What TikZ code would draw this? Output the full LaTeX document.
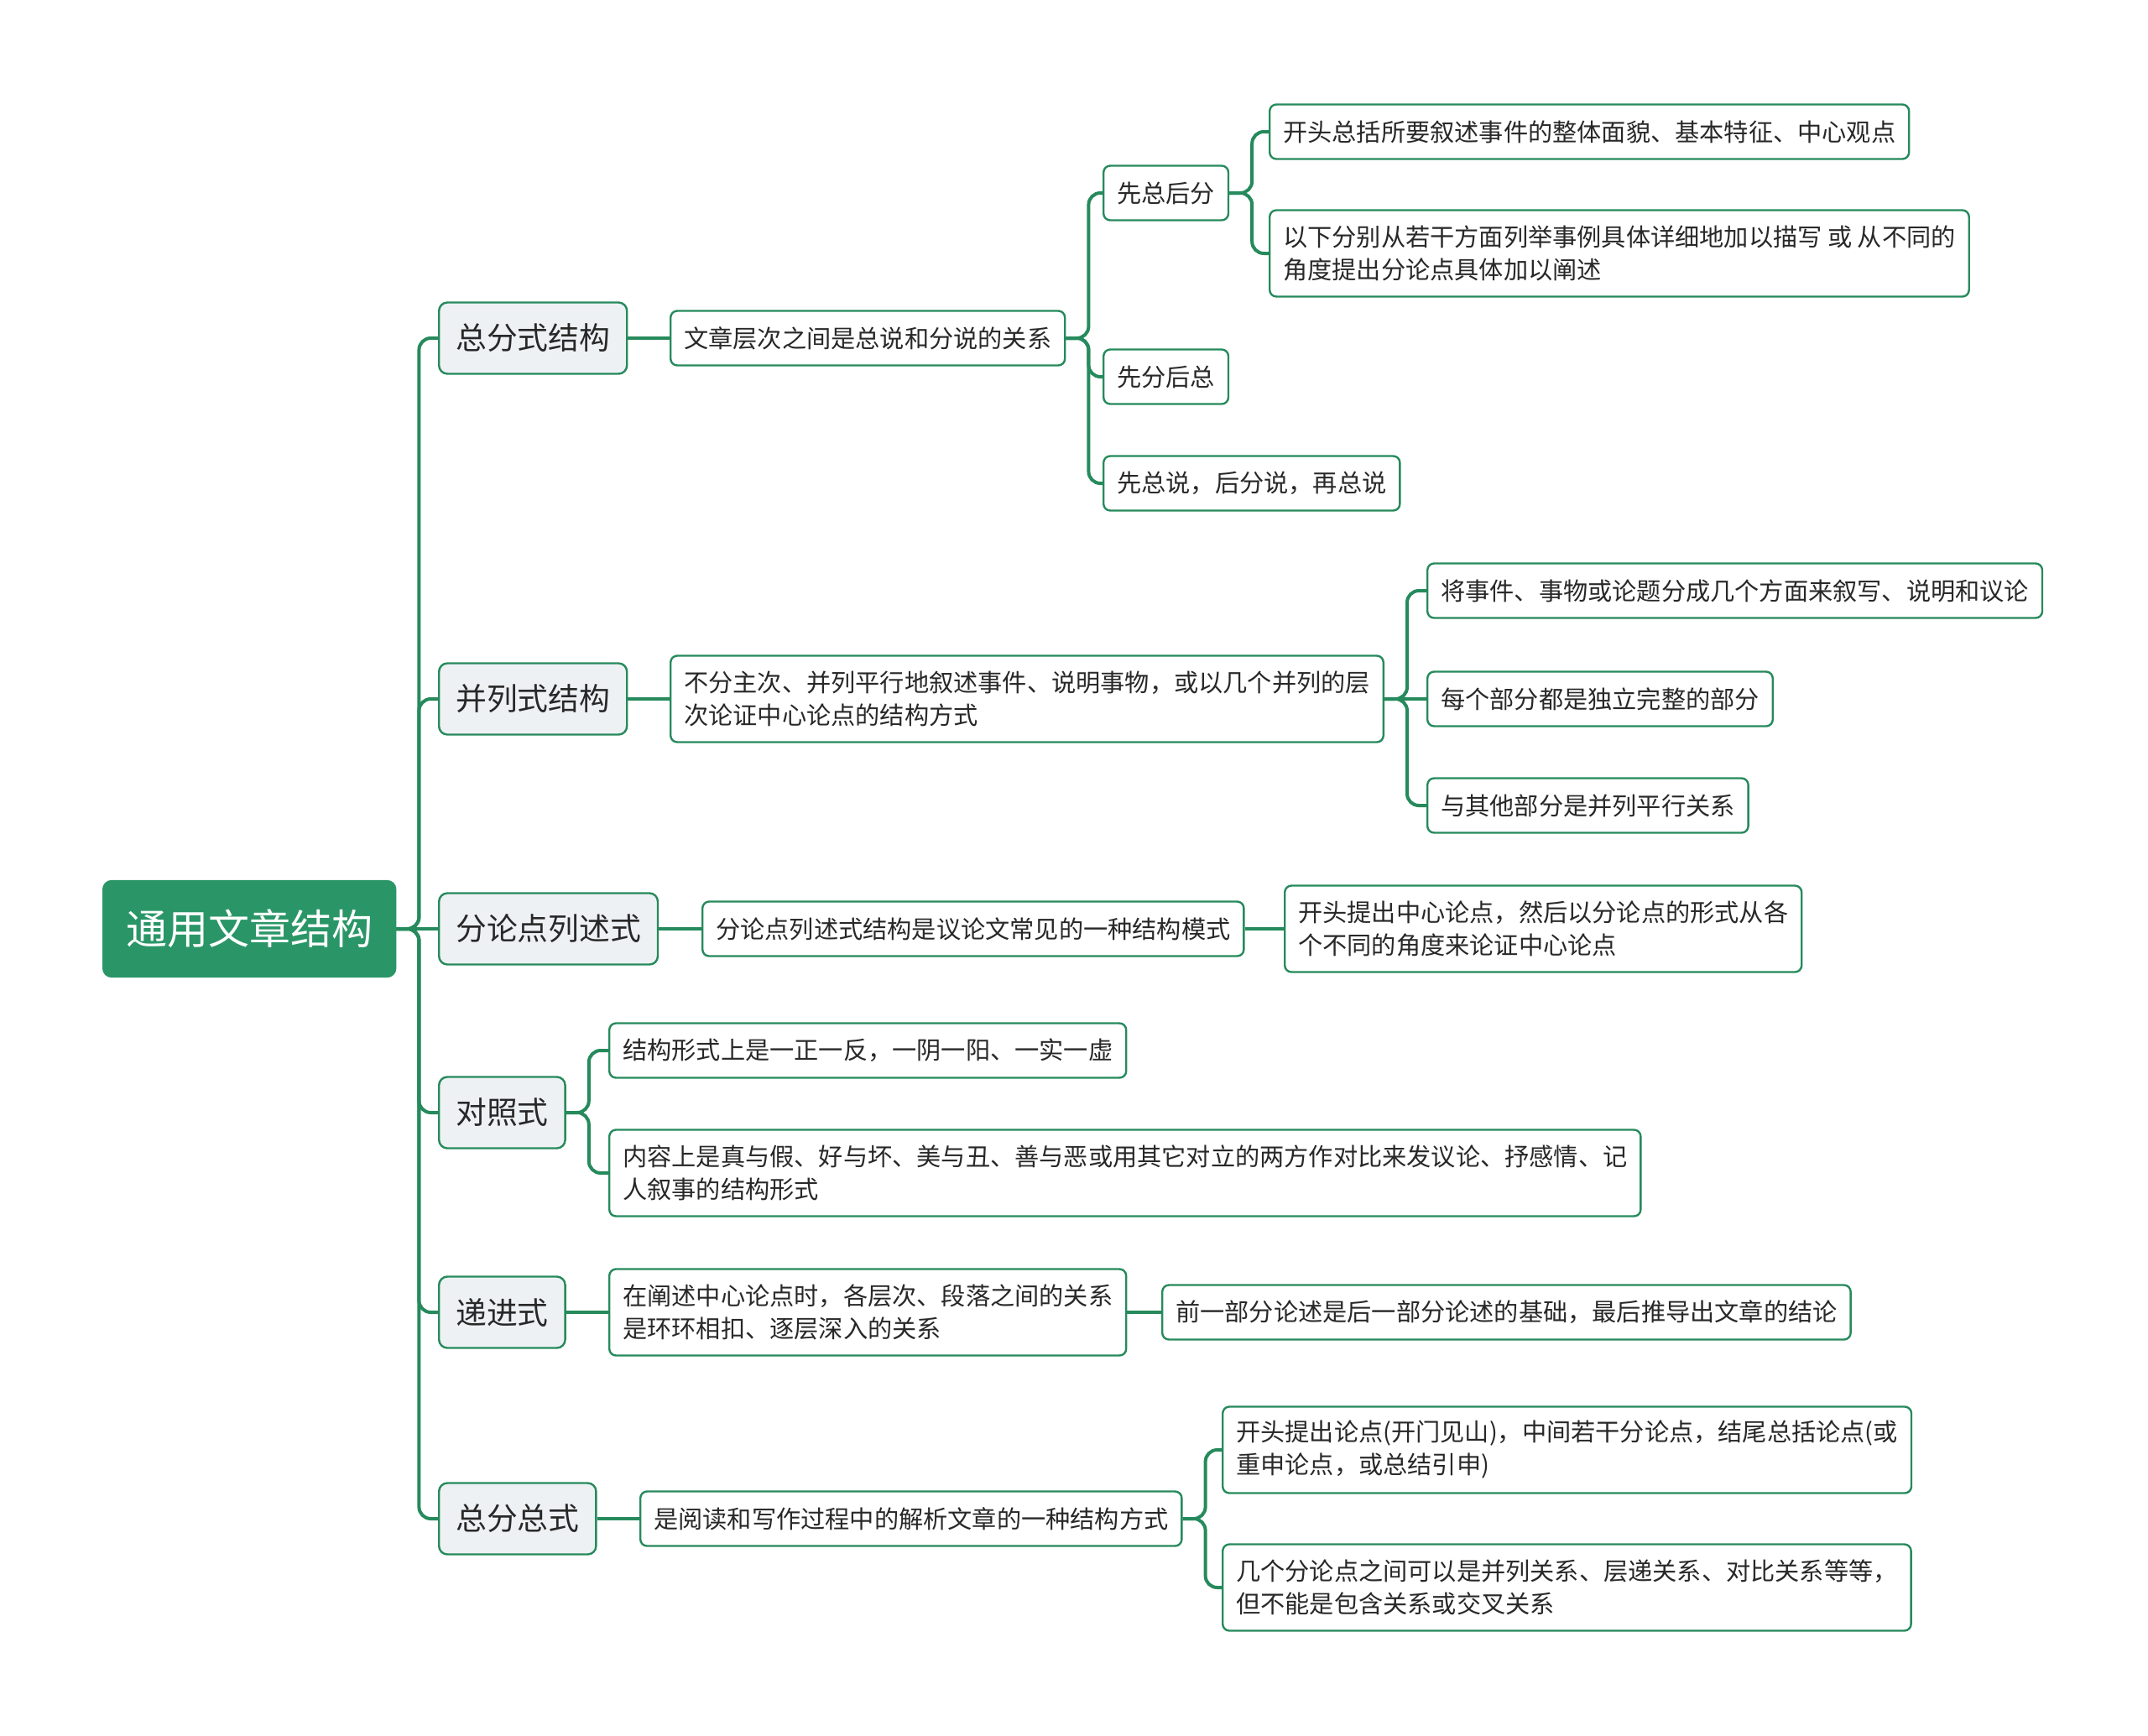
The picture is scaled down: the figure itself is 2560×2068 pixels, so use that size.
\documentclass[tikz,border=0pt]{standalone}
\usepackage{fontspec}
\setmainfont{Noto Sans CJK SC}
\definecolor{rootgreen}{RGB}{42,150,103}
\definecolor{linegreen}{RGB}{38,138,92}
\definecolor{topicgray}{RGB}{238,241,244}
\definecolor{textdark}{RGB}{40,40,40}
\tikzset{
    common/.style={anchor=west, draw=linegreen, line width=1.2pt, inner ysep=0pt, text=textdark},
    rootbox/.style={common, fill=rootgreen, draw=rootgreen, text=white, rounded corners=5pt,
        font=\fontsize{24.5pt}{30pt}\selectfont, inner xsep=13.5pt, minimum height=57pt},
    topic/.style={common, fill=topicgray, rounded corners=5pt,
        font=\fontsize{18.4pt}{24pt}\selectfont, inner xsep=10pt, minimum height=42.5pt},
    leaf/.style={common, fill=white, rounded corners=4pt, align=left,
        font=\fontsize{14.6pt}{19.5pt}\selectfont, inner xsep=8pt, minimum height=32.5pt},
    leaftwo/.style={leaf, minimum height=51.5pt},
    conn/.style={draw=linegreen, line width=2pt, rounded corners=7pt}
}

\begin{document}
\begin{tikzpicture}[x=0.5pt, y=-0.5pt]
    \useasboundingbox (0,0) rectangle (2560,2068);

    \node[rootbox] (root) at (122,1107) {通用文章结构};

    \node[topic] (zf)  at (522,403)  {总分式结构};
    \node[topic] (bl)  at (522,833)  {并列式结构};
    \node[topic] (fl)  at (522,1107) {分论点列述式};
    \node[topic] (dz)  at (522,1326) {对照式};
    \node[topic] (dj)  at (522,1564) {递进式};
    \node[topic] (zfz) at (522,1810) {总分总式};

    % 总分式结构
    \node[leaf] (zfA) at (798,403) {文章层次之间是总说和分说的关系};
    \node[leaf] (zfA1) at (1314,230) {先总后分};
    \node[leaf] (zfA2) at (1314,449) {先分后总};
    \node[leaf] (zfA3) at (1314,576) {先总说，后分说，再总说};
    \node[leaf] (zfA11) at (1512,157) {开头总括所要叙述事件的整体面貌、基本特征、中心观点};
    \node[leaftwo] (zfA12) at (1512,302) {以下分别从若干方面列举事例具体详细地加以描写 或 从不同的\\角度提出分论点具体加以阐述};

    % 并列式结构
    \node[leaftwo] (blA) at (798,833) {不分主次、并列平行地叙述事件、说明事物，或以几个并列的层\\次论证中心论点的结构方式};
    \node[leaf] (blA1) at (1700,704) {将事件、事物或论题分成几个方面来叙写、说明和议论};
    \node[leaf] (blA2) at (1700,833) {每个部分都是独立完整的部分};
    \node[leaf] (blA3) at (1700,960) {与其他部分是并列平行关系};

    % 分论点列述式
    \node[leaf] (flA) at (836,1107) {分论点列述式结构是议论文常见的一种结构模式};
    \node[leaftwo] (flA1) at (1530,1107) {开头提出中心论点，然后以分论点的形式从各\\个不同的角度来论证中心论点};

    % 对照式
    \node[leaf] (dzA) at (725,1252) {结构形式上是一正一反，一阴一阳、一实一虚};
    \node[leaftwo] (dzB) at (725,1398) {内容上是真与假、好与坏、美与丑、善与恶或用其它对立的两方作对比来发议论、抒感情、记\\人叙事的结构形式};

    % 递进式
    \node[leaftwo] (djA) at (725,1564) {在阐述中心论点时，各层次、段落之间的关系\\是环环相扣、逐层深入的关系};
    \node[leaf] (djA1) at (1384,1564) {前一部分论述是后一部分论述的基础，最后推导出文章的结论};

    % 总分总式
    \node[leaf] (zfzA) at (762,1810) {是阅读和写作过程中的解析文章的一种结构方式};
    \node[leaftwo] (zfzA1) at (1456,1728) {开头提出论点(开门见山)，中间若干分论点，结尾总括论点(或\\重申论点，或总结引申)};
    \node[leaftwo] (zfzA2) at (1456,1892) {几个分论点之间可以是并列关系、层递关系、对比关系等等，\\但不能是包含关系或交叉关系};

    % connectors
    \foreach \a/\b in {root/zf, root/bl, root/dz, root/dj, root/zfz,
                       zfA/zfA1, zfA/zfA2, zfA/zfA3, zfA1/zfA11, zfA1/zfA12,
                       blA/blA1, blA/blA3, zfzA/zfzA1, zfzA/zfzA2}
        \draw[conn] (\a.east) -- ++(27,0) |- (\b.west);
    \foreach \a/\b in {root/fl, zf/zfA, bl/blA, blA/blA2, fl/flA, flA/flA1,
                       dj/djA, djA/djA1, zfz/zfzA}
        \draw[conn] (\a.east) -- (\b.west);
    \draw[conn] (dz.east) -- ++(27,0) |- (dzA.west);
    \draw[conn] (dz.east) -- ++(27,0) |- (dzB.west);
\end{tikzpicture}
\end{document}
